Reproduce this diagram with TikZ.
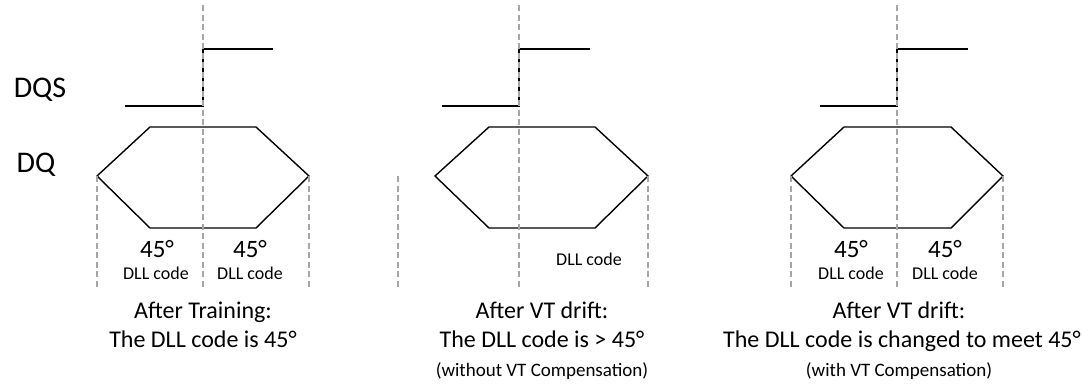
\documentclass[tikz,border=0pt]{standalone}
\usepackage{fontspec}
\setmainfont{Carlito}
\begin{document}
\begin{tikzpicture}[x=1pt,y=-1pt,
  sig/.style={line width=1.4pt,black},
  guide/.style={line width=1.1pt,color=black!35,dash pattern=on 6pt off 3.5pt},
  big/.style={inner sep=0pt,anchor=base,font=\fontsize{30}{34}\selectfont},
  deg/.style={inner sep=0pt,anchor=base,font=\fontsize{25}{29}\selectfont},
  code/.style={inner sep=0pt,anchor=base,font=\fontsize{18}{21}\selectfont},
  title/.style={inner sep=0pt,anchor=base,font=\fontsize{24}{28}\selectfont},
  note/.style={inner sep=0pt,anchor=base,font=\fontsize{19}{22}\selectfont}]
\useasboundingbox (0,0) rectangle (1083,383);

% labels
\node[big] (dqs) at (40,97) {DQS};
\node[big] (dq) at (36,172) {DQ};

% ---------- Panel 1 ----------
\draw[sig] (125,106) -- (203,106) -- (203,49) -- (273,49);
\draw[sig] (97,176) -- (150,127) -- (256,127) -- (309,176) -- (256,228) -- (150,228) -- cycle;
\draw[guide] (203,5) -- (203,287);
\draw[guide] (97,176) -- (97,287);
\draw[guide] (309,176) -- (309,287);
\node[deg] (a1) at (157,257) {45°};
\node[deg] (a2) at (250,257) {45°};
\node[code] (c1) at (156,279) {DLL code};
\node[code] (c2) at (250,279) {DLL code};
\node[title] (t1a) at (203,318) {After Training:};
\node[title] (t1b) at (203,347) {The DLL code is 45°};

% ---------- Panel 2 ----------
\draw[sig] (442,106) -- (519,106) -- (519,49) -- (590,49);
\draw[sig] (435,176) -- (489,127) -- (595,127) -- (648,176) -- (595,228) -- (489,228) -- cycle;
\draw[guide] (519,5) -- (519,287);
\draw[guide] (398,176) -- (398,287);
\draw[guide] (648,176) -- (648,287);
\node[code] (c3) at (589,265) {DLL code};
\node[title] (t2a) at (542,318) {After VT drift:};
\node[title] (t2b) at (542,347) {The DLL code is > 45°};
\node[note] (t2c) at (542,376) {(without VT Compensation)};

% ---------- Panel 3 ----------
\draw[sig] (820,106) -- (897,106) -- (897,49) -- (968,49);
\draw[sig] (791,176) -- (844,127) -- (951,127) -- (1003,176) -- (951,228) -- (844,228) -- cycle;
\draw[guide] (897,5) -- (897,287);
\draw[guide] (791,176) -- (791,287);
\draw[guide] (1003,176) -- (1003,287);
\node[deg] (a3) at (851,257) {45°};
\node[deg] (a4) at (945,257) {45°};
\node[code] (c4) at (851,279) {DLL code};
\node[code] (c5) at (945,279) {DLL code};
\node[title] (t3a) at (899,318) {After VT drift:};
\node[title] (t3b) at (902,347) {The DLL code is changed to meet 45°};
\node[note] (t3c) at (899,376) {(with VT Compensation)};
\end{tikzpicture}
\end{document}
